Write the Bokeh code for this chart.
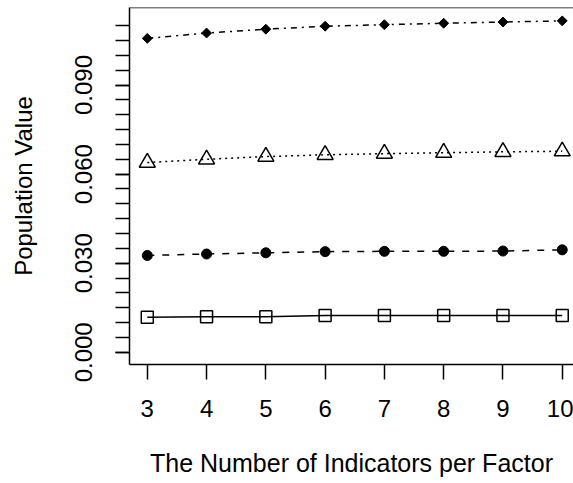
import numpy as np
from bokeh.plotting import figure
from bokeh.models import FixedTicker, PrintfTickFormatter, Span, Range1d
from bokeh.embed import file_html
from bokeh.resources import INLINE

# data
indicators = [3, 4, 5, 6, 7, 8, 9, 10]
series_diamond = [0.1057, 0.1075, 0.1088, 0.1098, 0.1103, 0.1108, 0.1112, 0.1116]
series_triangle = [0.0639, 0.0650, 0.0659, 0.0665, 0.0669, 0.0672, 0.0675, 0.0677]
series_circle = [0.0326, 0.0331, 0.0335, 0.0339, 0.0340, 0.0340, 0.0341, 0.0345]
series_square = [0.0118, 0.0120, 0.0120, 0.0124, 0.0124, 0.0124, 0.0124, 0.0124]
y_major = [0.0, 0.03, 0.06, 0.09]
y_minor = [round(i * 0.005, 3) for i in range(23)]
x_title = "The Number of Indicators per Factor"
y_title = "Population Value"

FONT = "Liberation Sans"
X0, X1 = 2.70, 10.19
Y0, Y1 = -0.0041, 0.1161

p = figure(width=573, height=483, output_backend="svg", toolbar_location=None,
           x_range=Range1d(X0, X1), y_range=Range1d(Y0, Y1),
           min_border_left=129, min_border_right=0, min_border_top=7,
           min_border_bottom=119)
p.outline_line_color = None
p.grid.visible = False
p.background_fill_color = "white"
p.border_fill_color = "white"

# lines
p.line(indicators, series_square, line_color="black", line_width=1.5)
p.line(indicators, series_circle, line_color="black", line_width=1.5, line_dash="7 8")
p.line(indicators, series_triangle, line_color="black", line_width=1.5, line_dash="2 4")
p.line(indicators, series_diamond, line_color="black", line_width=1.5, line_dash="6 5 2 5")

# markers
p.scatter(indicators, series_square, marker="square", size=12, fill_color=None,
          line_color="black", line_width=1.5)
p.scatter(indicators, series_circle, marker="circle", size=10, fill_color="black",
          line_color="black")
p.scatter(indicators, series_triangle, marker="triangle", size=16, fill_color=None,
          line_color="black", line_width=1.5)
p.scatter(indicators, series_diamond, marker="square", angle=np.pi / 4, size=7,
          fill_color="black", line_color="black")

# top border
p.add_layout(Span(location=Y1, dimension="width", line_color="black", line_width=1.5))

for ax in (p.xaxis[0], p.yaxis[0]):
    ax.axis_line_color = "black"
    ax.axis_line_width = 1.5
    ax.major_tick_line_color = "black"
    ax.major_tick_line_width = 1.5
    ax.major_tick_in = 0
    ax.major_tick_out = 15
    ax.major_label_text_font = FONT
    ax.major_label_text_font_size = "24px"
    ax.major_label_text_color = "black"
    ax.axis_label_text_font = FONT
    ax.axis_label_text_font_style = "normal"
    ax.axis_label_text_color = "black"

p.xaxis[0].ticker = FixedTicker(ticks=indicators)
p.xaxis[0].minor_tick_line_color = None
p.xaxis[0].major_label_standoff = 20
p.xaxis[0].axis_label = x_title
p.xaxis[0].axis_label_text_font_size = "25px"
p.xaxis[0].axis_label_standoff = 29

p.yaxis[0].ticker = FixedTicker(ticks=y_major, minor_ticks=y_minor)
p.yaxis[0].formatter = PrintfTickFormatter(format="%.3f")
p.yaxis[0].minor_tick_line_color = "black"
p.yaxis[0].minor_tick_line_width = 1.5
p.yaxis[0].minor_tick_in = 0
p.yaxis[0].minor_tick_out = 14
p.yaxis[0].major_tick_out = 14
p.yaxis[0].major_label_orientation = "vertical"
p.yaxis[0].major_label_standoff = 23
p.yaxis[0].axis_label = y_title
p.yaxis[0].axis_label_text_font_size = "24px"
p.yaxis[0].axis_label_standoff = 36

open("out.html", "w").write(file_html(p, INLINE))
